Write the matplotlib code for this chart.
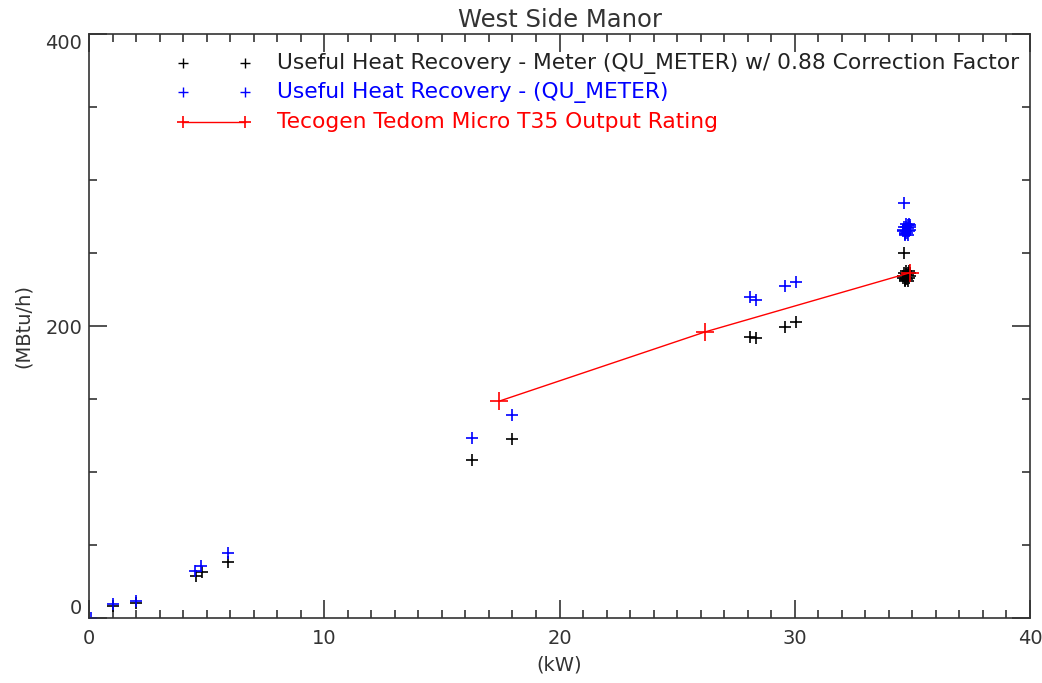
import matplotlib
matplotlib.use("Agg")
import matplotlib.pyplot as plt
from matplotlib.ticker import MultipleLocator

plt.rcParams['font.family'] = ['DejaVu Sans']

title = "West Side Manor"
xlabel = "(kW)"
ylabel = "(MBtu/h)"
legend_labels = [
    "Useful Heat Recovery - Meter (QU_METER) w/ 0.88 Correction Factor",
    "Useful Heat Recovery - (QU_METER)",
    "Tecogen Tedom Micro T35 Output Rating",
]

# Useful heat recovery (meter) - blue
meter_kw = [0.1, 1.0, 2.0, 4.5, 4.75, 5.9, 16.3, 18.0, 28.1, 28.35, 29.6, 30.05,
            34.66, 34.6, 34.65, 34.7, 34.75, 34.8, 34.85, 34.9, 34.7, 34.8, 34.9,
            34.75, 34.85, 34.62, 34.68, 34.78, 34.88, 34.72, 34.82]
meter_mbtu = [0.0, 9.5, 11.5, 32.0, 35.6, 44.5, 123.0, 139.0, 220.0, 217.8, 227.4, 230.0,
              284.0, 266.0, 268.0, 264.0, 270.0, 267.0, 265.0, 268.0, 263.0, 269.0, 266.0,
              265.0, 270.0, 265.0, 262.5, 264.0, 269.0, 267.5, 262.0]

# Corrected values (x 0.88) - black
corr_kw = [1.0, 2.0, 4.55, 4.8, 5.9, 16.3, 18.0, 28.1, 28.35, 29.6, 30.05,
           34.66, 34.6, 34.65, 34.7, 34.75, 34.8, 34.85, 34.9, 34.7, 34.8, 34.9,
           34.75, 34.85, 34.62, 34.68, 34.78, 34.88, 34.72, 34.82]
corr_mbtu = [8.5, 10.5, 28.5, 31.5, 38.5, 108.5, 122.5, 192.5, 191.8, 199.5, 202.5,
             250.0, 234.0, 236.0, 232.0, 237.5, 235.0, 233.0, 236.0, 231.5, 236.5, 234.0,
             233.0, 237.5, 233.0, 231.0, 232.5, 236.5, 235.5, 230.5]

# Rated output - red
rating_kw = [17.43, 26.2, 34.9]
rating_mbtu = [148.5, 196.0, 236.5]

fig = plt.figure(figsize=(10.42, 6.83), dpi=100)
ax = fig.add_axes([89/1042, 1-618/683, (1030-89)/1042, (618-34)/683])

ax.plot(corr_kw, corr_mbtu, ls='none', marker='+', ms=8, mew=1.2, color='black')
ax.plot(meter_kw, meter_mbtu, ls='none', marker='+', ms=8, mew=1.2, color='blue')
ax.plot(rating_kw, rating_mbtu, ls='-', lw=1.0, marker='+', ms=13, mew=1.2, color='red')

ax.set_xlim(0, 40)
ax.set_ylim(0, 400)

ax.xaxis.set_major_locator(MultipleLocator(10))
ax.xaxis.set_minor_locator(MultipleLocator(1))
ax.yaxis.set_major_locator(MultipleLocator(200))
ax.yaxis.set_minor_locator(MultipleLocator(50))
ax.tick_params(which='both', direction='in', top=True, right=True, color='#333333', width=1.2)
ax.tick_params(which='major', length=13, labelsize=14, labelcolor='#333333')
ax.tick_params(axis='y', which='major', pad=5)
ax.tick_params(axis='x', which='major', pad=8)
ax.tick_params(which='minor', length=6)
for s in ax.spines.values():
    s.set_linewidth(1.2)
    s.set_color('#333333')

fig.canvas.draw()
for lab in ax.get_yticklabels():
    t = lab.get_text()
    if t == '400':
        lab.set_verticalalignment('top')
    elif t == '0':
        lab.set_verticalalignment('bottom')

ax.set_title(title, fontsize=17.5, color='#333333', pad=5)
ax.set_xlabel(xlabel, fontsize=14, color='#333333', labelpad=5)
ax.set_ylabel(ylabel, fontsize=14, color='#333333', labelpad=9)

# legend drawn manually in axes data coordinates
leg_y = [380, 360, 339.5]
leg_colors = ['black', 'blue', 'red']
for i, (lab, c) in enumerate(zip(legend_labels, leg_colors)):
    yy = leg_y[i]
    if c == 'red':
        ax.plot([4.0, 6.63], [yy, yy], color=c, lw=1.0, marker='+', ms=8, mew=1.2)
    else:
        ax.plot([4.0, 6.63], [yy, yy], ls='none', color=c, marker='+', ms=7.5, mew=1.0)
    ax.text(8.0, yy, lab, color=('#222222' if c == 'black' else c), fontsize=15.7, va='center', ha='left')

fig.savefig("out.png", dpi=100)
